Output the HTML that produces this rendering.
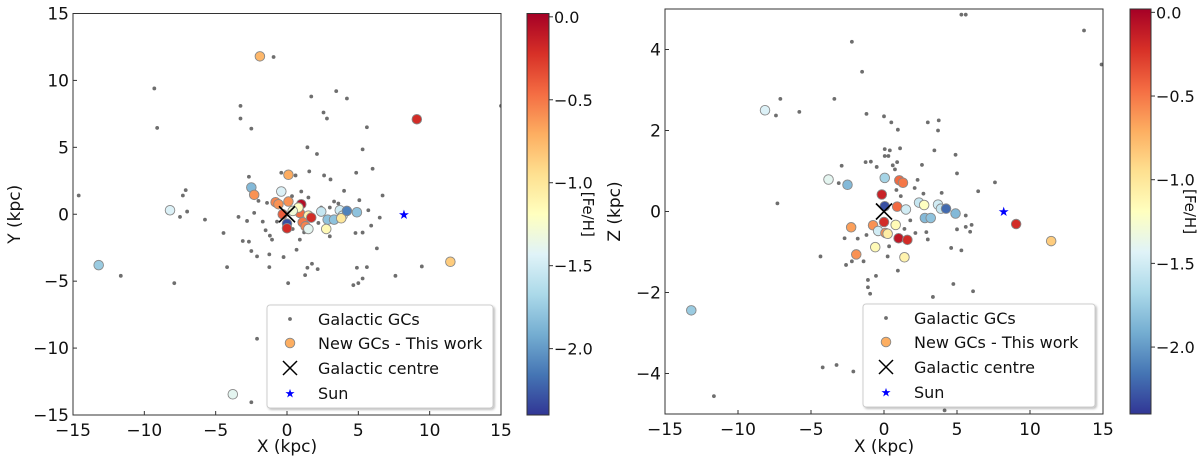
<!DOCTYPE html>
<html><head><meta charset="utf-8"><style>
html,body{margin:0;padding:0;background:#fff;}
svg{display:block;font-family:"DejaVu Sans","Liberation Sans",sans-serif;}
</style></head><body>
<svg id="fig" width="1200" height="464" viewBox="0 0 1200 464" xmlns="http://www.w3.org/2000/svg">
<defs>
<linearGradient id="cmap" x1="0" y1="1" x2="0" y2="0">
<stop offset="0" stop-color="#313695"/><stop offset="0.1" stop-color="#4575b4"/><stop offset="0.2" stop-color="#74add1"/><stop offset="0.3" stop-color="#abd9e9"/><stop offset="0.4" stop-color="#e0f3f8"/><stop offset="0.5" stop-color="#ffffbf"/><stop offset="0.6" stop-color="#fee090"/><stop offset="0.7" stop-color="#fdae61"/><stop offset="0.8" stop-color="#f46d43"/><stop offset="0.9" stop-color="#d73027"/><stop offset="1" stop-color="#a50026"/>
</linearGradient>
<filter id="sh" x="-5%" y="-5%" width="115%" height="115%"><feDropShadow dx="1.5" dy="1.5" stdDeviation="1" flood-color="#000" flood-opacity="0.25"/></filter>
</defs>
</svg>
<script>
// ---- data: left panel (X,Y) ----
const leftGreyX=[-0.94,-9.3,-9.1,-3.26,-3.26,-2.5,1.7,3.45,4.2,2.56,2.8,15,5.6,1.43,2.1,5.3,6.0,4.85,1.56,2.6,3.05,-0.4,0.6,-2.67,-14.6,-7.1,-7.3,-7.0,-7.5,-5.75,-3.4,-2.8,-2.3,-4.45,-3.1,-2.67,-2.5,-2.1,-1.24,-0.24,0.67,0.9,-4.2,-1.24,-11.65,-7.9,0.08,1.27,1.43,1.75,2.15,4.0,5.07,5.7,6.7,6.5,5.9,4.8,5.3,6.3,4.9,5.6,7.6,9.45,5.3,4.65,5.0,-2.1,-2.5,3.3,3.6,3.0,-1.7,-1.5,-1.2,-1.05,-1.4,-2.0,0.35,1.0,1.5,1.8,2.2,3.0,0.4,1.2,-0.7,2.4];
const leftGreyY=[11.75,9.4,6.45,8.1,7.15,6.4,8.8,9.2,8.65,7.6,7.15,8.1,6.5,5.0,4.5,4.85,3.4,3.1,3.2,2.9,2.6,3.1,2.9,2.8,1.4,1.8,1.4,0.2,-0.2,-0.4,-0.2,-0.5,0.1,-1.4,-2.0,-2.05,-2.75,-3.15,-3.0,-3.2,-2.65,-1.9,-3.95,-3.95,-4.6,-5.15,-5.15,-4.55,-4.0,-3.7,-4.1,1.75,1.05,0.3,1.4,-0.25,-0.85,-1.4,-1.37,-2.55,-4.0,-3.95,-4.6,-3.9,-4.8,-5.3,-5.15,-9.3,-14.05,0.95,0.8,0.5,-0.55,-1.2,-1.6,-1.9,0.85,1.0,1.35,1.7,1.25,-0.4,-0.65,-1.65,-1.1,-1.35,-0.55,0.5];
const leftNewX=[-1.9,9.1,0.1,-2.5,-2.3,-0.4,-8.2,-13.2,11.45,-3.8,-0.8,-0.6,0.1,1.0,0.9,0.8,1.5,1.7,1.1,1.3,1.5,0,0,-0.3,2.4,2.85,3.3,2.75,3.7,3.9,3.8,4.2,4.9,0.4];
const leftNewY=[11.8,7.1,2.95,2.0,1.45,1.7,0.3,-3.8,-3.55,-13.45,0.9,0.75,0.95,0.75,0.1,0.5,-0.1,-0.25,-0.6,-0.9,-1.1,-0.7,-1.05,0,0.2,-0.4,-0.4,-1.1,0.3,-0.1,-0.3,0.25,0.15,0.25];
const leftNewFeH=[-0.75,-0.2,-0.7,-1.85,-0.6,-1.45,-1.45,-1.75,-0.85,-1.4,-0.55,-0.6,-0.6,-0.05,-0.45,-1.2,-1.1,-0.2,-0.5,-0.55,-1.4,-2.3,-0.2,-0.4,-1.55,-1.8,-1.8,-1.15,-1.5,-1.5,-1.0,-2.1,-1.8,-1.3];
// ---- data: right panel (X,Z) ----
const rightGreyX=[5.3,5.6,13.7,14.9,-2.2,-1.5,-7.1,-3.4,-5.8,-7.4,-1.2,0,0.5,0.95,3.0,3.75,3.7,3.45,4.9,0.05,0.4,1.1,0.05,0.3,-2.9,-1.26,-0.9,-0.5,0.6,0.9,0.75,2.6,5.0,7.6,2.3,-7.3,-3.1,6.45,3.95,2.7,2.1,0.85,1.15,5.6,6.0,5.6,5.9,5.0,2.9,3.0,2.15,1.8,-4.35,-2.7,-1.8,-1.2,-2.6,-2.2,-1.4,0.25,0.95,-0.55,-1.1,-1.1,-0.95,4.6,5.3,4.75,6.1,3.35,-4.2,-3.25,-2.1,-11.65,4.15,0.35,1.4];
const rightGreyZ=[4.86,4.86,4.47,3.63,4.19,3.45,2.78,2.78,2.46,2.37,2.41,2.35,2.2,2.02,2.2,2.25,2.0,1.51,1.4,1.54,1.51,1.56,1.37,1.37,1.13,1.22,1.23,1.1,1.14,1.22,1.04,1.15,0.94,0.72,0.78,0.2,0.7,0.5,0.46,0.44,0.58,0.53,0.38,-0.1,-0.33,-0.38,-0.5,-0.44,-0.51,-0.69,-0.53,-0.22,-1.11,-0.66,-0.67,-0.58,-1.32,-1.23,-1.23,-1.11,-1.46,-1.59,-1.69,-1.87,-2.03,-0.9,-0.96,-1.79,-1.97,-2.11,-3.85,-3.79,-3.95,-4.56,-4.91,-0.86,-0.43];
const rightNewX=[-8.15,-3.8,-2.5,0.05,1.05,1.3,-0.15,0.05,0.9,1.5,2.4,2.75,3.7,3.9,4.25,4.9,2.8,3.2,0,-0.75,-0.4,0.1,0.25,0.8,1.0,1.6,-2.25,-0.6,1.4,-1.9,9.05,11.45,-13.2];
const rightNewZ=[2.5,0.79,0.66,0.83,0.77,0.71,0.42,0.13,0.12,0.05,0.22,0.16,0.17,0.07,0.07,-0.05,-0.16,-0.16,-0.26,-0.34,-0.48,-0.53,-0.55,-0.33,-0.66,-0.7,-0.39,-0.88,-1.13,-1.06,-0.31,-0.73,-2.44];
const rightNewFeH=[-1.45,-1.4,-1.85,-1.7,-0.45,-0.5,-0.15,-2.3,-0.45,-1.5,-1.55,-1.2,-1.5,-1.55,-2.2,-1.85,-1.85,-1.8,-0.2,-0.6,-1.5,-0.6,-1.05,-1.15,-0.1,-0.2,-0.65,-1.15,-1.1,-0.6,-0.2,-0.85,-1.75];
const sunX=[8.2]; const sunY=[0];
const xTicks=[-15,-10,-5,0,5,10,15];
const leftYTicks=[-15,-10,-5,0,5,10,15];
const rightYTicks=[-4,-2,0,2,4];
const cbTicks=[0.0,-0.5,-1.0,-1.5,-2.0];
const cbTickLabels=["0.0","\u22120.5","\u22121.0","\u22121.5","\u22122.0"];
const legendLabels=["Galactic GCs","New GCs - This work","Galactic centre","Sun"];
const cmin=-2.4, cmax=0.02;

const NS="http://www.w3.org/2000/svg";
const svg=document.getElementById('fig');
function mk(tag,attrs,parent){const e=document.createElementNS(NS,tag);for(const k in attrs)e.setAttribute(k,attrs[k]);(parent||svg).appendChild(e);return e;}
const stops=["#313695","#4575b4","#74add1","#abd9e9","#e0f3f8","#ffffbf","#fee090","#fdae61","#f46d43","#d73027","#a50026"];
function hex(c){return [1,3,5].map(i=>parseInt(c.substr(i,2),16));}
function cmap(v){let t=(v-cmin)/(cmax-cmin);t=Math.max(0,Math.min(1,t));const f=t*10,i=Math.min(9,Math.floor(f)),r=f-i;const a=hex(stops[i]),b=hex(stops[i+1]);return 'rgb('+a.map((x,k)=>Math.round(x+(b[k]-x)*r)).join(',')+')';}
function fmt(v){return (v<0?'\u2212':'')+Math.abs(v);}

function panel(p){
  const sx=v=>p.x0+(v-p.xmin)/(p.xmax-p.xmin)*(p.x1-p.x0);
  const sy=v=>p.y1-(v-p.ymin)/(p.ymax-p.ymin)*(p.y1-p.y0);
  const g=mk('g',{});
  
  
  const clip=mk('clipPath',{id:p.name+'clip'},g);mk('rect',{x:p.x0,y:p.y0,width:p.x1-p.x0,height:p.y1-p.y0},clip);
  const plot=mk('g',{'clip-path':'url(#'+p.name+'clip)'},g);
  for(let i=0;i<p.gx.length;i++){const c=mk('circle',{cx:sx(p.gx[i]),cy:sy(p.gy[i]),r:1.9,fill:'#6e6e6e'},plot);
    
    }
  for(let i=0;i<p.nx.length;i++){const c=mk('circle',{cx:sx(p.nx[i]),cy:sy(p.ny[i]),r:4.8,fill:cmap(p.nf[i]),stroke:'#888',"stroke-width":0.9},plot);
    
    }
  const cx=sx(0),cy=sy(0);
  const gc=mk('path',{d:`M${cx-8},${cy-8}L${cx+8},${cy+8}M${cx-8},${cy+8}L${cx+8},${cy-8}`,stroke:'#000','stroke-width':1.6},plot);
  
  
  const st=mk('text',{x:sx(sunX[0]),y:sy(sunY[0])+4.5,'text-anchor':'middle','font-size':13,fill:'#0000ff'},plot);st.textContent='\u2605';
  
  
  const fr=mk('rect',{x:p.x0,y:p.y0,width:p.x1-p.x0,height:p.y1-p.y0,fill:'none',stroke:'#333','stroke-width':1},g);
  
  
  xTicks.forEach(v=>{const x=sx(v);mk('line',{x1:x,x2:x,y1:p.y1,y2:p.y1-4,stroke:'#333'},g);
    const t=mk('text',{x:x,y:p.y1+21,'text-anchor':'middle','font-size':17,fill:'#111'},g);t.textContent=fmt(v);
    
    });
  p.yt.forEach(v=>{const y=sy(v);mk('line',{x1:p.x0,x2:p.x0+4,y1:y,y2:y,stroke:'#333'},g);
    const t=mk('text',{x:p.x0-4,y:y+6,'text-anchor':'end','font-size':17,fill:'#111'},g);t.textContent=fmt(v);
    
    });
  const xt=mk('text',{x:(p.x0+p.x1)/2,y:452,'text-anchor':'middle','font-size':17,fill:'#111'},g);xt.textContent='X (kpc)';
  
  
  const yt=mk('text',{x:0,y:0,'text-anchor':'middle','font-size':17,fill:'#111',transform:`translate(${p.ytx},${(p.y0+p.y1)/2}) rotate(-90)`},g);yt.textContent=p.ylabel;
  
  
  // legend
  const L=p.leg;
  const lg=mk('g',{},g);
  
  
  mk('rect',{x:L.x,y:L.y,width:L.w,height:L.h,rx:3,fill:'#fff',stroke:'#ccc','stroke-width':1,filter:'url(#sh)'},lg);
  const rows=[319,343,368,393].map(v=>v-305+L.y);
  const mx=L.x+23, tx=L.x+51;
  mk('circle',{cx:mx,cy:rows[0],r:1.9,fill:'#6e6e6e'},lg);
  mk('circle',{cx:mx,cy:rows[1],r:4.8,fill:'#fdae61',stroke:'#888','stroke-width':0.9},lg);
  mk('path',{d:`M${mx-7},${rows[2]-7}L${mx+7},${rows[2]+7}M${mx-7},${rows[2]+7}L${mx+7},${rows[2]-7}`,stroke:'#000','stroke-width':1.5},lg);
  const ls=mk('text',{x:mx,y:rows[3]+4.5,'text-anchor':'middle','font-size':12,fill:'#0000ff'},lg);ls.textContent='\u2605';
  legendLabels.forEach((s,i)=>{const t=mk('text',{x:tx,y:rows[i]+6,'font-size':16,fill:'#111'},lg);t.textContent=s;
    
    });
  // colorbar
  const cb=mk('g',{},g);
  
  
  mk('rect',{x:p.cb0,y:p.y0,width:p.cb1-p.cb0,height:p.y1-p.y0,fill:'url(#cmap)',stroke:'#333','stroke-width':1},cb);
  const cy2=v=>p.y1-(v-cmin)/(cmax-cmin)*(p.y1-p.y0);
  cbTicks.forEach((v,i)=>{const y=cy2(v);mk('line',{x1:p.cb1,x2:p.cb1+4,y1:y,y2:y,stroke:'#333'},cb);
    const t=mk('text',{x:p.cb1+5,y:y+6,'font-size':16,fill:'#111'},cb);t.textContent=cbTickLabels[i];
    
    });
  const cl=mk('text',{x:0,y:0,'text-anchor':'middle','font-size':15,fill:'#111',transform:`translate(${p.cb1+34},${(p.y0+p.y1)/2}) rotate(90)`},cb);cl.textContent='[Fe/H]';
  
  
}
panel({name:'xy',x0:73,x1:501,y0:13.5,y1:415,xmin:-15,xmax:15,ymin:-15,ymax:15,gx:leftGreyX,gy:leftGreyY,nx:leftNewX,ny:leftNewY,nf:leftNewFeH,yt:leftYTicks,ylabel:'Y (kpc)',ytx:20,leg:{x:267,y:305,w:226,h:103},cb0:527,cb1:549});
panel({name:'xz',x0:665,x1:1103,y0:9,y1:414,xmin:-15,xmax:15,ymin:-5,ymax:5,gx:rightGreyX,gy:rightGreyZ,nx:rightNewX,ny:rightNewZ,nf:rightNewFeH,yt:rightYTicks,ylabel:'Z (kpc)',ytx:620,leg:{x:863,y:304,w:232,h:103},cb0:1130,cb1:1151});
</script>
</body></html>
